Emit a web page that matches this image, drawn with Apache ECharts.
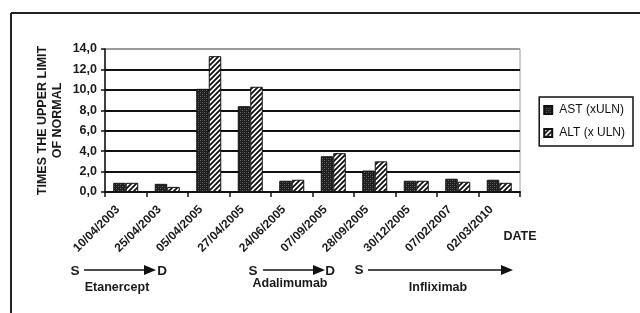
<!DOCTYPE html>
<html>
<head>
<meta charset="utf-8">
<script src="https://cdn.jsdelivr.net/npm/echarts@6/dist/echarts.min.js"></script>
<style>
html,body{margin:0;padding:0;background:#fff;}
#c{width:640px;height:313px;}
</style>
</head>
<body>
<div id="c"></div>
<script>
const categories = ['10/04/2003','25/04/2003','05/04/2005','27/04/2005','24/06/2005','07/09/2005','28/09/2005','30/12/2005','07/02/2007','02/03/2010'];
const astValues = [0.9, 0.8, 10.1, 8.4, 1.1, 3.5, 2.1, 1.1, 1.3, 1.2];
const altValues = [0.9, 0.5, 13.3, 10.3, 1.2, 3.8, 3.0, 1.1, 1.0, 0.9];
const seriesNames = ['AST (xULN)', 'ALT (x ULN)'];
const yTicks = {min: 0, max: 14, interval: 2};

function astPattern() {
  const c = document.createElement('canvas');
  c.width = 4; c.height = 4;
  const g = c.getContext('2d');
  g.fillStyle = '#1e1e1e'; g.fillRect(0,0,4,4);
  g.fillStyle = '#6a6a6a';
  g.fillRect(0,0,1,1); g.fillRect(2,2,1,1);
  g.fillStyle = '#3c3c3c';
  g.fillRect(2,0,1,1); g.fillRect(0,2,1,1);
  return {image: c, repeat: 'repeat'};
}
function altPattern() {
  const s = 5;
  const c = document.createElement('canvas');
  c.width = s; c.height = s;
  const g = c.getContext('2d');
  g.fillStyle = '#ffffff'; g.fillRect(0,0,s,s);
  g.strokeStyle = '#111'; g.lineWidth = 1.8;
  g.beginPath();
  g.moveTo(-1, s+1); g.lineTo(s+1, -1);
  g.moveTo(-1, 1); g.lineTo(1, -1);
  g.moveTo(s-1, s+1); g.lineTo(s+1, s-1);
  g.stroke();
  return {image: c, repeat: 'repeat'};
}

const chart = echarts.init(document.getElementById('c'), null, {renderer: 'canvas'});
const bold = {fontFamily: 'Liberation Sans, Arial, sans-serif', fontWeight: 'bold', color: '#1a1a1a'};

function arrow(x1, x2, y) {
  return [
    {type: 'line', shape: {x1: x1, y1: y, x2: x2 - 10, y2: y}, style: {stroke: '#111', lineWidth: 1.5}},
    {type: 'polygon', shape: {points: [[x2 - 12, y - 5], [x2, y], [x2 - 12, y + 5]]}, style: {fill: '#111'}}
  ];
}
function txt(x, y, t, size) {
  return {type: 'text', x: x, y: y, style: {text: t, font: 'bold ' + size + 'px "Liberation Sans", Arial, sans-serif', fill: '#1a1a1a', align: 'center', verticalAlign: 'middle'}};
}

const option = {
  animation: false,
  backgroundColor: '#fff',
  grid: {left: 105, right: 120, top: 49, bottom: 121, show: true, borderColor: '#9a9a9a', borderWidth: 1},
  legend: {
    orient: 'vertical', right: 7, top: 97,
    data: seriesNames,
    itemWidth: 8, itemHeight: 8, itemGap: 9,
    borderColor: '#111', borderWidth: 1.5, padding: [6, 8, 6, 4],
    icon: 'rect',
    textStyle: {fontFamily: 'Liberation Sans, Arial, sans-serif', fontSize: 12, lineHeight: 14, color: '#111', padding: [0, 0, 0, 2]}
  },
  xAxis: {
    type: 'category', data: categories,
    axisLine: {lineStyle: {color: '#111', width: 2}},
    axisTick: {show: true, length: 5, lineStyle: {color: '#111', width: 1.5}},
    axisLabel: Object.assign({interval: 0, rotate: 45, fontSize: 12, margin: 8, padding: [0, 11, 0, 0]}, bold)
  },
  yAxis: {
    type: 'value', min: yTicks.min, max: yTicks.max, interval: yTicks.interval,
    name: 'TIMES THE UPPER LIMIT\nOF NORMAL', nameLocation: 'middle', nameGap: 40,
    nameMoveOverlap: false,
    nameTextStyle: Object.assign({fontSize: 12.5, lineHeight: 15}, bold),
    axisLine: {show: true, lineStyle: {color: '#111', width: 1.5}},
    axisTick: {show: true, length: 4, lineStyle: {color: '#111', width: 1.5}},
    splitLine: {show: true, lineStyle: {color: ['#111','#111','#111','#111','#111','#111','#111','#9a9a9a'], width: 2}},
    axisLabel: Object.assign({fontSize: 12.5, margin: 8, formatter: v => v.toFixed(1).replace('.', ',')}, bold)
  },
  series: [
    {name: seriesNames[0], type: 'bar', data: astValues, barWidth: 12.5, barGap: '0%',
     itemStyle: {color: astPattern(), borderColor: '#111', borderWidth: 1}},
    {name: seriesNames[1], type: 'bar', data: altValues, barWidth: 12.5, barGap: '0%',
     itemStyle: {color: altPattern(), borderColor: '#111', borderWidth: 1}}
  ],
  graphic: [
    {type: 'line', shape: {x1: 11, y1: 13, x2: 640, y2: 13}, style: {stroke: '#222', lineWidth: 2}},
    {type: 'line', shape: {x1: 11, y1: 13, x2: 11, y2: 313}, style: {stroke: '#222', lineWidth: 2}},
    txt(520, 237, 'DATE', 12.5),
    txt(75, 271, 'S', 13.5),
    ...arrow(84, 156, 270),
    txt(162, 271, 'D', 13.5),
    txt(117, 288, 'Etanercept', 12.5),
    txt(253, 271, 'S', 13.5),
    ...arrow(263, 325, 270),
    txt(330, 271, 'D', 13.5),
    txt(290, 284, 'Adalimumab', 12.5),
    txt(359, 270, 'S', 13.5),
    ...arrow(368, 513, 270),
    txt(438, 288, 'Infliximab', 12.5)
  ]
};
chart.setOption(option);
</script>
</body>
</html>
